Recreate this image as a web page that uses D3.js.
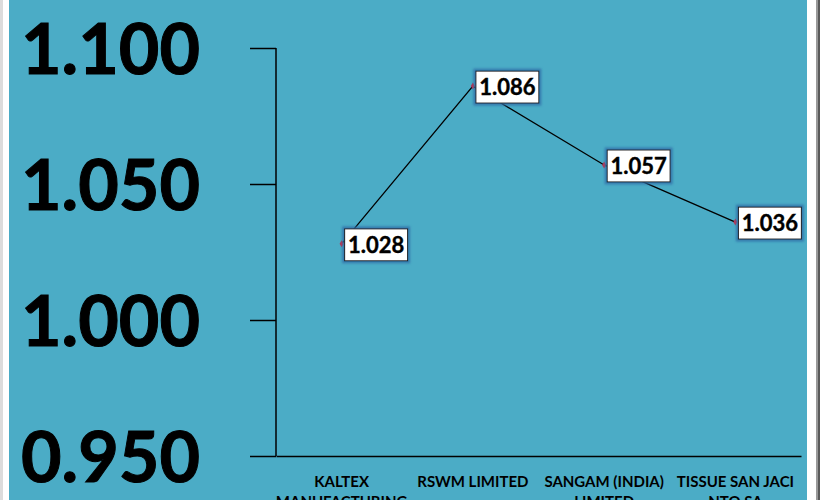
<!DOCTYPE html>
<html><head><meta charset="utf-8">
<script src="https://cdn.jsdelivr.net/npm/d3@7/dist/d3.min.js"></script>
<style>html,body{margin:0;padding:0;background:#fff;overflow:hidden}</style>
</head><body>
<svg id="c" width="820" height="500"></svg>
<script>
const categories = [["KALTEX","MANUFACTURING"],["RSWM LIMITED"],["SANGAM (INDIA)","LIMITED"],["TISSUE SAN JACI","NTO SA"]];
const values = [1.028, 1.086, 1.057, 1.036];
const yTicks = [0.95, 1.0, 1.05, 1.1];

const svg = d3.select("#c");
const defs = svg.append("defs");
const f = defs.append("filter").attr("id","glow").attr("x","-30%").attr("y","-30%").attr("width","160%").attr("height","160%");
f.append("feMorphology").attr("in","SourceAlpha").attr("operator","dilate").attr("radius",2).attr("result","d");
f.append("feGaussianBlur").attr("in","d").attr("stdDeviation",1.2).attr("result","b");
f.append("feFlood").attr("flood-color","#2f6fa8").attr("flood-opacity",0.8);
f.append("feComposite").attr("in2","b").attr("operator","in").attr("result","g");
const fm = f.append("feMerge"); fm.append("feMergeNode").attr("in","g"); fm.append("feMergeNode").attr("in","SourceGraphic");

// frame
svg.append("rect").attr("x",0).attr("y",0).attr("width",3).attr("height",500).attr("fill","#dcdcdc");
svg.append("rect").attr("x",9).attr("y",0).attr("width",798).attr("height",500).attr("fill","#4bacc6");
svg.append("rect").attr("x",816).attr("y",0).attr("width",2).attr("height",500).attr("fill","#9a9a9a");
svg.append("rect").attr("x",818).attr("y",0).attr("width",2).attr("height",500).attr("fill","#5a5a5a");

const x = d3.scaleBand().domain(d3.range(categories.length)).range([276, 801]);
const y = d3.scaleLinear().domain([0.95, 1.1]).range([456, 48]);

// y axis
const ya = svg.append("g").attr("transform","translate(276,0)")
  .call(d3.axisLeft(y).tickValues(yTicks).tickSize(26).tickPadding(0).tickFormat(d3.format(".3f")));
ya.select(".domain").attr("stroke","#000").attr("stroke-width",1.5).attr("d","M0,48V456");
ya.selectAll(".tick line").attr("stroke","#000").attr("stroke-width",1.5);
ya.selectAll(".tick text").attr("x",-76).attr("dy","0.36em").attr("fill","#000")
  .attr("stroke","#000").attr("stroke-width",1)
  .style("font-family","Lato").style("font-weight","bold").style("font-size","70px");

// x axis
const xa = svg.append("g").attr("transform","translate(0,456)")
  .call(d3.axisBottom(x).tickSize(0).tickFormat(""));
xa.select(".domain").attr("stroke","#000").attr("stroke-width",1.5);
xa.selectAll(".tick").each(function(d){
  const t = d3.select(this).append("text").attr("fill","#000").attr("text-anchor","middle")
    .style("font-family","Lato").style("font-weight","bold").style("font-size","15px");
  categories[d].forEach((s,i)=>t.append("tspan").attr("x",0).attr("y",31+i*20).text(s));
});

// line
const line = d3.line().x((d,i)=>x(i)+x.bandwidth()/2).y(d=>y(d));
svg.append("path").datum(values).attr("d",line).attr("fill","none").attr("stroke","#000").attr("stroke-width",1.3);
svg.selectAll(".mk").data(values).join("path").attr("class","mk")
  .attr("transform",(d,i)=>`translate(${x(i)+x.bandwidth()/2},${y(d)})`)
  .attr("d",d3.symbol(d3.symbolDiamond,14)).attr("fill","#c0304d");

// data labels
const lab = svg.selectAll(".lb").data(values).join("g").attr("class","lb")
  .attr("transform",(d,i)=>`translate(${x(i)+x.bandwidth()/2+3},${y(d)+1})`);
lab.append("rect").attr("x",0).attr("y",-16).attr("width",63).attr("height",32)
  .attr("fill","#fff").attr("stroke","#1a1a1a").attr("stroke-width",1).attr("filter","url(#glow)");
lab.append("text").attr("x",31.5).attr("y",0).attr("dy","0.36em").attr("text-anchor","middle").attr("fill","#000")
  .attr("stroke","#000").attr("stroke-width",0.4)
  .style("font-family","Lato").style("font-weight","bold").style("font-size","22px").text(d=>d3.format(".3f")(d));
</script>
</body></html>
